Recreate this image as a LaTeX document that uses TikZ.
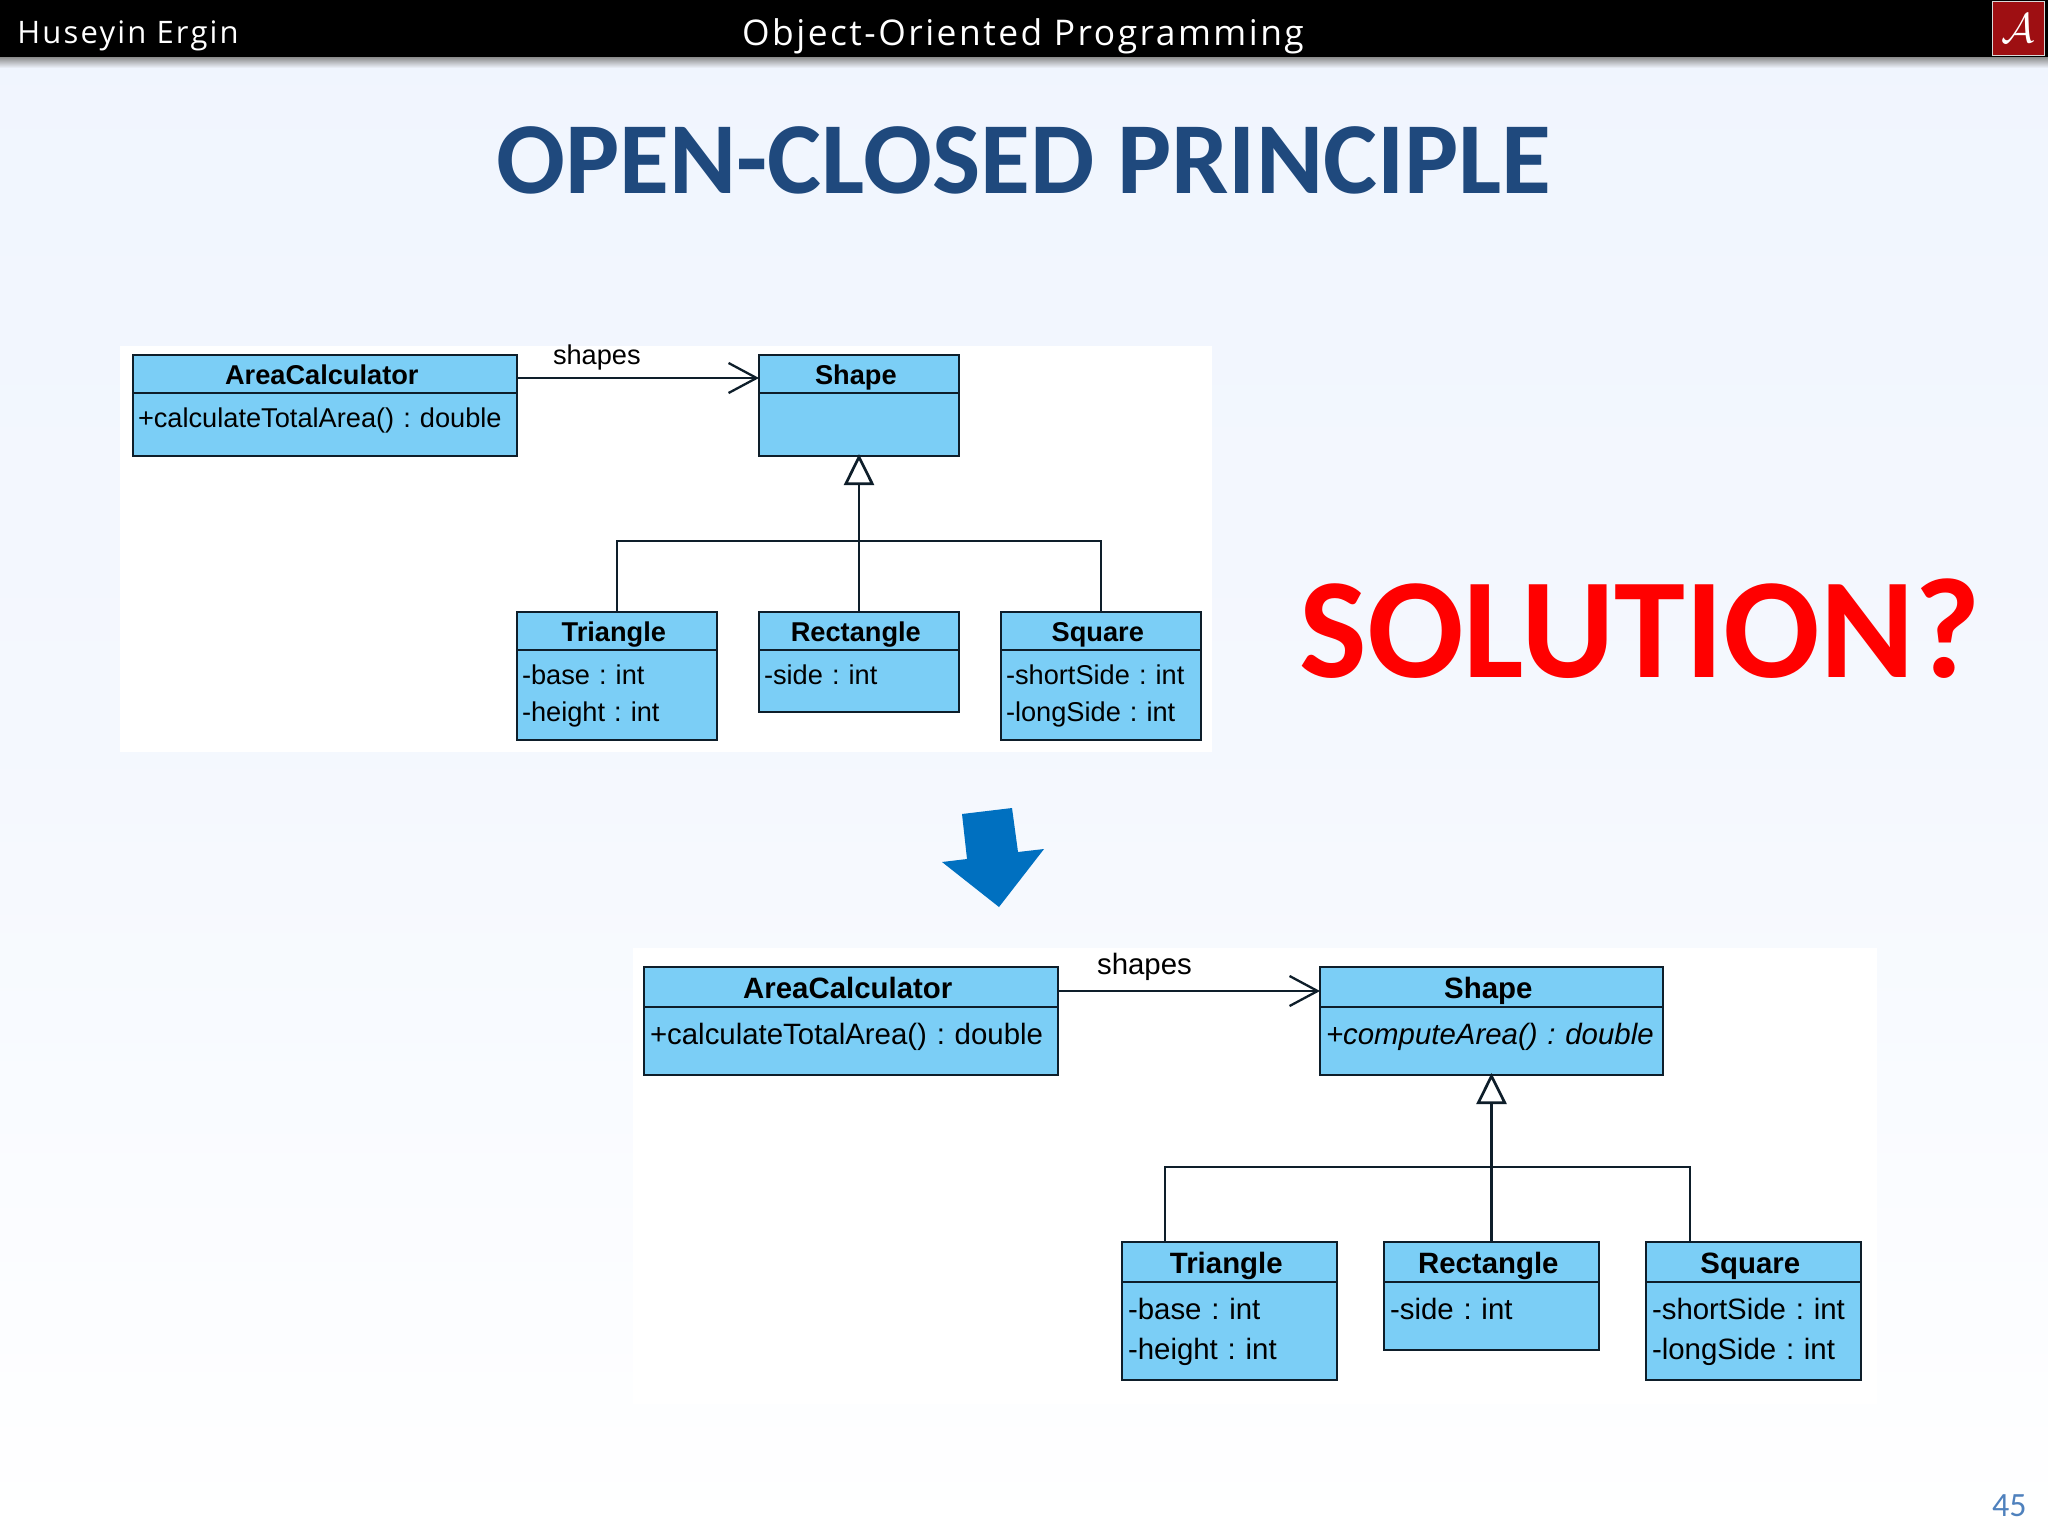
\documentclass[tikz,border=0pt]{standalone}
\usepackage{fontspec}
\usepackage{tikz}
\usetikzlibrary{arrows.meta,positioning}
\setmainfont{Liberation Sans}
\newfontfamily\titlefont{Carlito}
\newfontfamily\barfont[LetterSpace=7]{Open Sans}
\definecolor{boxblue}{HTML}{7BCEF6}
\definecolor{boxline}{HTML}{0E1E2A}
\definecolor{titleblue}{HTML}{1F497D}
\definecolor{arrowblue}{HTML}{0070C0}
\definecolor{pageblue}{HTML}{F0F5FE}
\definecolor{numberblue}{HTML}{4F81BD}
\definecolor{logored}{HTML}{9E0F12}
\tikzset{
  classbox/.style={draw=boxline,fill=boxblue,line width=1.35pt,outer sep=0pt,inner ysep=0pt},
  smallhead/.style={classbox,minimum width=#1,text height=14.5pt,text depth=4.5pt,execute at end node={\kern3.2pt},font=\fontsize{13.6}{19}\selectfont\bfseries},
  bighead/.style={classbox,minimum width=#1,text height=15.5pt,text depth=4.5pt,execute at end node={\kern3.2pt},font=\fontsize{14.7}{20}\selectfont\bfseries},
  smallbody/.style 2 args={classbox,inner xsep=2.5pt,text width=#1-5pt,align=left,text height=17pt,text depth=#2-17pt,font=\fontsize{13.6}{18.6}\selectfont\frenchspacing},
  bigbody/.style 2 args={classbox,inner xsep=3pt,text width=#1-6pt,align=left,text height=18.5pt,text depth=#2-18.5pt,font=\fontsize{14.7}{20}\selectfont\frenchspacing},
  barb/.style={-{Straight Barb[length=14pt,width=15pt]},line width=1.15pt,draw=boxline},
  inherit/.style={-{Triangle[open,length=15.5pt,width=15pt,fill=white]},line width=1.35pt,draw=boxline,shorten >=-1pt},
  busline/.style={line width=1.1pt,draw=boxline}
}
\begin{document}
\begin{tikzpicture}[x=.5pt,y=-.5pt]
   \useasboundingbox (0,0) rectangle (2048,1536);
   \shade[top color=pageblue,bottom color=white,middle color=pageblue!70!white] (0,0) rectangle (2048,1536);
   \fill[white] (120,346) rectangle (1212,752);
   \fill[white] (633,948) rectangle (1877,1404);
   \shade[top color=black!45,bottom color=pageblue] (0,57) rectangle (2048,68);
   \fill[black] (0,0) rectangle (2048,57);

   \node[anchor=base west,inner sep=0pt,text=white,font=\barfont\fontsize{15.5}{20}\selectfont] (author) at (17,44) {Huseyin Ergin};
   \node[anchor=base,text=white,font=\barfont\fontsize{17.7}{20}\selectfont] (course) at (1023,46) {Object-Oriented Programming};
   \node[draw=black!15,fill=logored,text=white,minimum width=26pt,minimum height=27pt,inner sep=0pt,font=\fontsize{20.74}{22}\selectfont] (logo) at (2018,28) {$\mathcal{A}$};
   \node[anchor=base,text=titleblue,font=\titlefont\bfseries\fontsize{51}{56}\selectfont] (title) at (1024,193) {OPEN-CLOSED PRINCIPLE};
   \node[anchor=base,text=red,font=\titlefont\bfseries\fontsize{71.5}{80}\selectfont] (solution) at (1640,677) {SOLUTION?};
   \node[anchor=base east,inner sep=0pt,text=numberblue,font=\titlefont\fontsize{17}{20}\selectfont] (pagenum) at (2027,1516) {45};

   \fill[arrowblue] (962,814) -- (1012,808) -- (1018,852) -- (1044,849) -- (999,907) -- (942,862) -- (967,859) -- cycle;

   \node[smallhead=192pt,anchor=north west] (area1) at (133,355) {AreaCalculator};
   \node[smallbody={192pt}{31.5pt}]  (area1b)  [below=0pt of area1]   {+calculateTotalArea() : double};
   \node[smallhead=100pt]            (shape1)  [right=121pt of area1] {Shape};
   \node[smallbody={100pt}{31.5pt}]  (shape1b) [below=0pt of shape1]  {};
   \node[smallhead=100pt]            (rect1)   [below=78pt of shape1b] {Rectangle};
   \node[smallbody={100pt}{31pt}]    (rect1b)  [below=0pt of rect1]   {-side : int};
   \node[smallhead=100pt]            (tri1)    [left=21pt of rect1]   {Triangle};
   \node[smallbody={100pt}{45pt}]    (tri1b)   [below=0pt of tri1]    {-base : int\\-height : int};
   \node[smallhead=100pt]            (square1) [right=21pt of rect1]  {Square};
   \node[smallbody={100pt}{45pt}]    (square1b) [below=0pt of square1] {-shortSide : int\\-longSide : int};

   \coordinate[below=42.5pt of shape1b.south] (bus1);
   \draw[barb] ([yshift=-2pt]area1.east) -- node[pos=.33,above=3.4pt,inner sep=0pt,font=\fontsize{13.6}{19}\selectfont] (shapes1) {shapes} ([yshift=-2pt]shape1.west);
   \draw[inherit] (rect1.north) -- (shape1b.south);
   \draw[busline] (tri1.north) |- (bus1) -| (square1.north);

   \node[bighead=207pt,anchor=north west] (area2) at (644,967) {AreaCalculator};
   \node[bigbody={207pt}{34pt}]      (area2b)  [below=0pt of area2]   {+calculateTotalArea() : double};
   \node[bighead=171.5pt]            (shape2)  [right=131pt of area2] {Shape};
   \node[bigbody={171.5pt}{34pt}]    (shape2b) [below=0pt of shape2]  {\itshape +computeArea() : double};
   \node[bighead=107.5pt]            (rect2)   [below=83.5pt of shape2b] {Rectangle};
   \node[bigbody={107.5pt}{34pt}]    (rect2b)  [below=0pt of rect2]   {-side : int};
   \node[bighead=107.5pt]            (tri2)    [left=23.5pt of rect2] {Triangle};
   \node[bigbody={107.5pt}{49pt}]    (tri2b)   [below=0pt of tri2]    {-base : int\\-height : int};
   \node[bighead=107.5pt]            (square2) [right=23.5pt of rect2] {Square};
   \node[bigbody={107.5pt}{49pt}]    (square2b) [below=0pt of square2] {-shortSide : int\\-longSide : int};

   \coordinate[below=46pt of shape2b.south] (bus2);
   \coordinate[right=21.5pt of tri2.north west] (tri2top);
   \coordinate[right=22pt of square2.north west] (square2top);
   \draw[barb] ([yshift=-2pt]area2.east) -- node[pos=.33,above=4.5pt,inner sep=0pt,font=\fontsize{14.7}{20}\selectfont] (shapes2) {shapes} ([yshift=-2pt]shape2.west);
   \draw[inherit] (rect2.north) -- (shape2b.south);
   \draw[busline] (tri2top) |- (bus2) -| (square2top);
 \end{tikzpicture}
\end{document}
